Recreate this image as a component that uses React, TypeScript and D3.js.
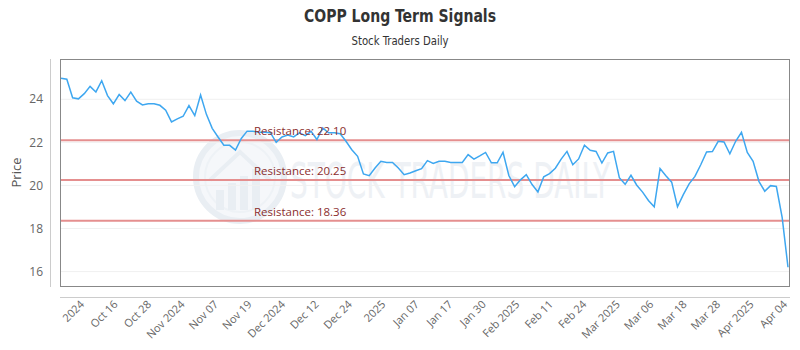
import React from "react";
import * as d3 from "d3";

const title = "COPP Long Term Signals";
const subtitle = "Stock Traders Daily";
const yAxisTitle = "Price";

const prices = [
  24.98, 24.93, 24.07, 24.02, 24.26, 24.6, 24.34, 24.86, 24.17, 23.79,
  24.22, 23.94, 24.33, 23.91, 23.74, 23.79, 23.79, 23.72, 23.49, 22.95,
  23.09, 23.21, 23.71, 23.24, 24.2, 23.3, 22.65, 22.25, 21.87, 21.86,
  21.64, 22.18, 22.52, 22.51, 22.47, 22.47, 22.45, 22.0, 22.25, 22.34,
  22.25, 22.44, 22.31, 22.51, 22.13, 22.67, 22.44, 22.44, 22.4, 22.05,
  21.66, 21.35, 20.53, 20.45, 20.81, 21.12, 21.07, 21.07, 20.81, 20.5,
  20.58, 20.68, 20.78, 21.15, 21.02, 21.12, 21.12, 21.07, 21.07, 21.07,
  21.43, 21.22, 21.37, 21.53, 21.05, 21.05, 21.54, 20.46, 19.94, 20.26,
  20.5, 20.04, 19.7, 20.4, 20.55, 20.8, 21.22, 21.58, 20.96, 21.23,
  21.87, 21.63, 21.58, 21.04, 21.51, 21.58, 20.36, 20.05, 20.47, 20.01,
  19.69, 19.3, 19.01, 20.78, 20.45, 20.15, 19.01, 19.57, 20.07, 20.42,
  20.96, 21.55, 21.57, 22.05, 22.02, 21.47, 22.05, 22.47, 21.53, 21.12,
  20.19, 19.73, 19.99, 19.95, 18.5, 16.2,
];

const xTickLabels = [
  "2024", "Oct 16", "Oct 28", "Nov 2024", "Nov 07", "Nov 19", "Dec 2024",
  "Dec 12", "Dec 24", "2025", "Jan 07", "Jan 17", "Jan 30", "Feb 2025",
  "Feb 11", "Feb 24", "Mar 2025", "Mar 06", "Mar 18", "Mar 28", "Apr 2025",
  "Apr 04",
];

const yTicks = [16, 18, 20, 22, 24];
const resistanceLevels = [22.1, 20.25, 18.36];

export default function App() {
  const W = 800;
  const H = 350;
  const left = 60;
  const right = 790;
  const top = 59;
  const bottom = 286;

  const y = d3.scaleLinear().domain([15.33, 25.87]).range([bottom, top]);
  const x = d3
    .scaleLinear()
    .domain([0, prices.length - 1])
    .range([left + 1, right - 2]);
  const xt = d3.scalePoint<string>().domain(xTickLabels).range([82, 785]);

  const line = d3
    .line<number>()
    .x((_, i) => x(i))
    .y((d) => y(d));

  const font = "'Open Sans', 'Noto Sans', sans-serif";
  const condensed = "'DejaVu Sans Condensed', 'DejaVu Sans', sans-serif";

  return (
    <svg
      width={W}
      height={H}
      style={{ position: "absolute", left: 0, top: 0, background: "#fff" }}
    >
      {/* titles */}
      <text
        x={400}
        y={22}
        textAnchor="middle"
        fontFamily={condensed}
        fontWeight="bold"
        fontSize={17.5}
        textLength={192}
        lengthAdjust="spacingAndGlyphs"
        fill="#333"
      >
        {title}
      </text>
      <text
        x={400}
        y={45}
        textAnchor="middle"
        fontFamily={condensed}
        fontSize={12}
        textLength={97}
        lengthAdjust="spacingAndGlyphs"
        fill="#333"
      >
        {subtitle}
      </text>

      {/* watermark */}
      <g>
        <circle cx={240} cy={177} r={44} fill="#f5f7fa" stroke="#e9eef3" strokeWidth={6} />
        <circle cx={240} cy={177} r={35} fill="none" stroke="#eef2f6" strokeWidth={2} />
        {[0, 1, 2, 3].map((k) => (
          <rect
            key={k}
            x={216 + k * 12}
            y={190 - k * 7}
            width={8}
            height={20 + k * 7}
            fill="#e9eef3"
          />
        ))}
        <path d="M 210 180 L 240 152 L 270 180" fill="none" stroke="#e9eef3" strokeWidth={4} />
        <text
          x={290}
          y={198}
          fontFamily={condensed}
          fontSize={50}
          textLength={320}
          lengthAdjust="spacingAndGlyphs"
          fill="#eef1f5"
        >
          STOCK TRADERS DAILY
        </text>
      </g>

      {/* grid */}
      {yTicks.map((t) => (
        <line
          key={t}
          x1={left}
          x2={right}
          y1={y(t)}
          y2={y(t)}
          stroke="#f0f0f0"
          strokeWidth={1}
        />
      ))}

      {/* y axis line */}
      <line x1={50.5} x2={50.5} y1={top} y2={bottom + 1} stroke="#ccc" strokeWidth={1} />
      {yTicks.map((t) => (
        <text
          key={t}
          x={43}
          y={y(t)}
          dy="0.35em"
          textAnchor="end"
          fontFamily={font}
          fontSize={12}
          fill="#666"
        >
          {t}
        </text>
      ))}
      <text
        transform={`translate(21,${(top + bottom) / 2}) rotate(-90)`}
        textAnchor="middle"
        fontFamily={font}
        fontSize={13}
        fill="#555"
      >
        {yAxisTitle}
      </text>

      {/* resistance lines */}
      {resistanceLevels.map((r) => (
        <line
          key={r}
          x1={left}
          x2={right}
          y1={y(r)}
          y2={y(r)}
          stroke="#e58f8f"
          strokeWidth={2}
        />
      ))}

      {/* price line */}
      <path d={line(prices) || ""} fill="none" stroke="#3ea7f0" strokeWidth={1.5} />

      {resistanceLevels.map((r) => (
        <text
          key={r}
          x={254}
          y={y(r) - 5}
          fontFamily={font}
          fontSize={11.5}
          fill="#8b2e2e"
        >
          {`Resistance: ${r.toFixed(2)}`}
        </text>
      ))}

      {/* plot border */}
      <rect
        x={left + 0.5}
        y={top + 0.5}
        width={right - left - 1}
        height={bottom - top}
        fill="none"
        stroke="#888"
        strokeWidth={1}
      />

      {/* x axis */}
      <line x1={left} x2={right} y1={297.5} y2={297.5} stroke="#ccc" strokeWidth={1} />
      {xTickLabels.map((l) => (
        <text
          key={l}
          transform={`translate(${(xt(l) as number) + 3},${305}) rotate(-45)`}
          textAnchor="end"
          fontFamily={font}
          fontSize={11}
          fill="#666"
        >
          {l}
        </text>
      ))}
    </svg>
  );
}
